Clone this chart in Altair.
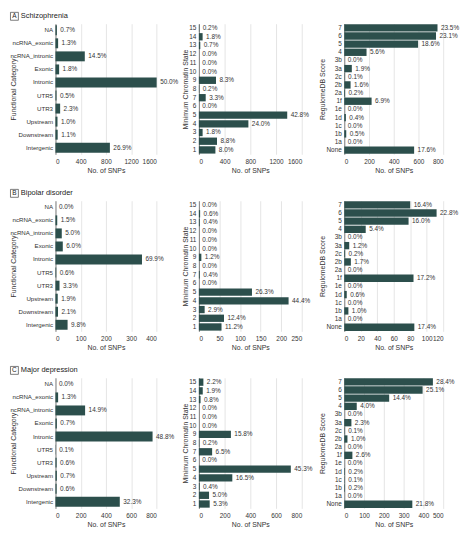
import altair as alt
import pandas as pd

FONT = "'Liberation Sans Narrow', 'Liberation Sans', sans-serif"
BAR = "#2c4f4c"
TXT = "#333333"

# ---------------- categories ----------------
func_cats = ["NA", "ncRNA_exonic", "ncRNA_intronic", "Exonic", "Intronic",
             "UTR5", "UTR3", "Upstream", "Downstream", "Intergenic"]
chrom_cats = ["15", "14", "13", "12", "11", "10", "9", "8", "7", "6", "5", "4", "3", "2", "1"]
reg_cats = ["7", "6", "5", "4", "3b", "3a", "2c", "2b", "2a", "1f", "1e", "1d", "1c", "1b", "1a", "None"]

# ---------------- A: Schizophrenia ----------------
scz_func_n = [22, 42, 465, 58, 1605, 16, 74, 32, 35, 863]
scz_func_pct = [0.7, 1.3, 14.5, 1.8, 50.0, 0.5, 2.3, 1.0, 1.1, 26.9]
scz_chrom_n = [6, 58, 22, 0, 0, 0, 266, 6, 106, 0, 1374, 770, 58, 282, 257]
scz_chrom_pct = [0.2, 1.8, 0.7, 0.0, 0.0, 0.0, 8.3, 0.2, 3.3, 0.0, 42.8, 24.0, 1.8, 8.8, 8.0]
scz_reg_n = [754, 742, 597, 180, 0, 61, 3, 51, 6, 221, 0, 13, 0, 16, 0, 565]
scz_reg_pct = [23.5, 23.1, 18.6, 5.6, 0.0, 1.9, 0.1, 1.6, 0.2, 6.9, 0.0, 0.4, 0.0, 0.5, 0.0, 17.6]

# ---------------- B: Bipolar disorder ----------------
bip_func_n = [0, 7, 25, 29, 343, 3, 16, 9, 10, 48]
bip_func_pct = [0.0, 1.5, 5.0, 6.0, 69.9, 0.6, 3.3, 1.9, 2.1, 9.8]
bip_chrom_n = [0, 3, 2, 0, 0, 0, 6, 0, 2, 0, 129, 218, 14, 61, 55]
bip_chrom_pct = [0.0, 0.6, 0.4, 0.0, 0.0, 0.0, 1.2, 0.0, 0.4, 0.0, 26.3, 44.4, 2.9, 12.4, 11.2]
bip_reg_n = [80, 112, 78, 26, 0, 6, 1, 8, 0, 84, 0, 3, 0, 5, 0, 85]
bip_reg_pct = [16.4, 22.8, 16.0, 5.4, 0.0, 1.2, 0.2, 1.7, 0.0, 17.2, 0.0, 0.6, 0.0, 1.0, 0.0, 17.4]

# ---------------- C: Major depression ----------------
mdd_func_n = [0, 21, 235, 11, 770, 2, 9, 11, 9, 510]
mdd_func_pct = [0.0, 1.3, 14.9, 0.7, 48.8, 0.1, 0.6, 0.7, 0.6, 32.3]
mdd_chrom_n = [35, 30, 13, 0, 0, 0, 249, 3, 103, 0, 715, 260, 6, 79, 84]
mdd_chrom_pct = [2.2, 1.9, 0.8, 0.0, 0.0, 0.0, 15.8, 0.2, 6.5, 0.0, 45.3, 16.5, 0.4, 5.0, 5.3]
mdd_reg_n = [448, 396, 227, 63, 0, 36, 2, 16, 0, 41, 0, 3, 2, 3, 0, 344]
mdd_reg_pct = [28.4, 25.1, 14.4, 4.0, 0.0, 2.3, 0.1, 1.0, 0.0, 2.6, 0.0, 0.2, 0.1, 0.2, 0.0, 21.8]

# ---------------- axis tick values ----------------
ticks_A_func = [0, 400, 800, 1200, 1600]
ticks_A_chrom = [0, 400, 800, 1200, 1600]
ticks_A_reg = [0, 200, 400, 600, 800]
ticks_B_func = [0, 100, 200, 300, 400]
ticks_B_chrom = [0, 50, 100, 150, 200, 250]
ticks_B_reg = [0, 20, 40, 60, 80, 100, 120]
ticks_C_func = [0, 200, 400, 600, 800]
ticks_C_chrom = [0, 200, 400, 600, 800]
ticks_C_reg = [0, 100, 200, 300, 400, 500]

row_letters = ["A", "B", "C"]
row_names = ["Schizophrenia", "Bipolar disorder", "Major depression"]

H = 132


def panel(cats, counts, pcts, ticks, ytitle, title_x, width, pad, ylab_size=6.5, header=None):
    df = pd.DataFrame({"cat": cats, "n": counts,
                       "lab": [f"{p:.1f}%" for p in pcts]})
    base = alt.Chart(df).encode(
        x=alt.X("n:Q",
                scale=alt.Scale(domain=[ticks[0], ticks[-1]], nice=False, zero=True),
                axis=alt.Axis(values=ticks, title="No. of SNPs", format="d",
                              titleY=16.5, titleBaseline="middle")),
        y=alt.Y("cat:N", sort=cats,
                scale=alt.Scale(paddingInner=pad, paddingOuter=pad / 2),
                axis=alt.Axis(title=ytitle, titleX=title_x, titleBaseline="middle",
                              labelFontSize=ylab_size)),
    )
    bars = base.mark_bar(color=BAR)
    labels = base.mark_text(align="left", baseline="middle", dx=3.5,
                            fontSize=6.5, font=FONT, color=TXT).encode(text="lab:N")
    layers = [bars, labels]
    if header is not None:
        letter, name = header
        hdf = pd.DataFrame({"k": [0]})
        box = alt.Chart(hdf).mark_rect(fill="white", stroke="#444444", strokeWidth=0.7).encode(
            x=alt.value(-45.5), x2=alt.value(-37.5), y=alt.value(-11.5), y2=alt.value(-3.5))
        ltxt = alt.Chart(hdf).mark_text(align="center", baseline="middle", fontSize=6.5,
                                        font=FONT, color="#222222").encode(
            x=alt.value(-41.5), y=alt.value(-7.5), text=alt.value(letter))
        ntxt = alt.Chart(hdf).mark_text(align="left", baseline="middle", fontSize=7.5,
                                        font=FONT, color="#222222").encode(
            x=alt.value(-35), y=alt.value(-7.5), text=alt.value(name))
        layers += [box, ltxt, ntxt]
    return alt.layer(*layers).properties(width=width, height=H)


def row(i, fn, fp, cn, cp, rn, rp, tf, tc, tr):
    p1 = panel(func_cats, fn, fp, tf, "Functional Category", -42.5, 102, 0.24,
               ylab_size=6.2, header=(row_letters[i], row_names[i]))
    p2 = panel(chrom_cats, cn, cp, tc, "Minimum Chromatin State", -14, 104, 0.16)
    p3 = panel(reg_cats, rn, rp, tr, "RegulomeDB Score", -22, 100, 0.1)
    return [p1, p2, p3]


panels = []
panels += row(0, scz_func_n, scz_func_pct, scz_chrom_n, scz_chrom_pct, scz_reg_n, scz_reg_pct,
              ticks_A_func, ticks_A_chrom, ticks_A_reg)
panels += row(1, bip_func_n, bip_func_pct, bip_chrom_n, bip_chrom_pct, bip_reg_n, bip_reg_pct,
              ticks_B_func, ticks_B_chrom, ticks_B_reg)
panels += row(2, mdd_func_n, mdd_func_pct, mdd_chrom_n, mdd_chrom_pct, mdd_reg_n, mdd_reg_pct,
              ticks_C_func, ticks_C_chrom, ticks_C_reg)

chart = alt.concat(*panels, columns=3, spacing={"row": 47, "column": 43},
                   bounds="flush").properties(
    padding={"left": 0, "top": 0, "right": 0, "bottom": 0}
).configure_view(
    stroke="transparent"
).configure_axis(
    labelFont=FONT, labelFontSize=6.5, labelColor=TXT,
    titleFont=FONT, titleFontSize=7, titleFontWeight="normal", titleColor=TXT,
    ticks=False, tickSize=0,
).configure_axisX(
    domain=False, grid=True, gridColor="#dadada", gridWidth=0.7, labelPadding=4,
).configure_axisY(
    domain=True, domainColor="#666666", domainWidth=0.8, grid=False, labelPadding=3,
)

chart.save("out.html", embed_options={"renderer": "svg", "actions": False})
